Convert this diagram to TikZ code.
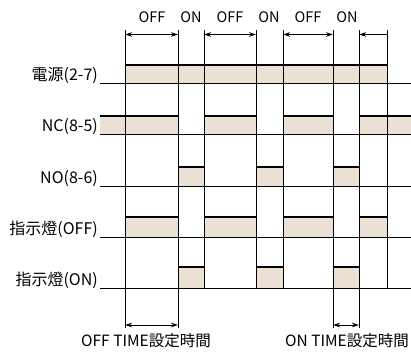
\documentclass[tikz,border=0pt]{standalone}
\usepackage{fontspec}
\setmainfont{Noto Sans CJK JP}
\usetikzlibrary{arrows.meta}
\definecolor{beige}{RGB}{234,224,212}
\tikzset{
  lbl/.style={anchor=base east, inner sep=0pt, font=\fontsize{16}{17}\selectfont},
  toplbl/.style={inner sep=0pt, font=\fontsize{14.5}{16}\selectfont},
  botlbl/.style={inner sep=0pt, font=\fontsize{15.5}{17}\selectfont},
  grid/.style={line width=0.9pt, black},
  base/.style={line width=0.9pt, black},
  high/.style={line width=2pt, black},
  dim/.style={line width=0.9pt, {Stealth[length=7pt,width=4.5pt]}-{Stealth[length=7pt,width=4.5pt]}},
  dimL/.style={line width=0.9pt, {Stealth[length=7pt,width=4.5pt]}-},
}
\begin{document}
\begin{tikzpicture}[x=1pt,y=-1pt]
\useasboundingbox (0,0) rectangle (411,353);
% x positions
\def\xL{100}\def\xR{411}
\def\xa{125}\def\xb{178}\def\xc{204}\def\xd{256}\def\xe{283}\def\xf{333}\def\xg{359}\def\xh{387}
% row: top, base
\def\pT{64.5}\def\pB{83.5}
\def\ncT{115.5}\def\ncB{134.5}
\def\noT{166.5}\def\noB{186}
\def\ofT{216.5}\def\ofB{237.5}
\def\onT{266.5}\def\onB{288}
% fills
\fill[beige] (\xa,\pT) rectangle (\xh,\pB);
\foreach \s/\e in {\xL/\xb,\xc/\xd,\xe/\xf,\xg/\xR} \fill[beige] (\s,\ncT) rectangle (\e,\ncB);
\foreach \s/\e in {\xb/\xc,\xd/\xe,\xf/\xg} \fill[beige] (\s,\noT) rectangle (\e,\noB);
\foreach \s/\e in {\xa/\xb,\xc/\xd,\xe/\xf,\xg/\xh} \fill[beige] (\s,\ofT) rectangle (\e,\ofB);
\foreach \s/\e in {\xb/\xc,\xd/\xe,\xf/\xg} \fill[beige] (\s,\onT) rectangle (\e,\onB);
% vertical lines
\foreach \x in {\xa,\xb,\xf,\xg} \draw[grid] (\x,30) -- (\x,328);
\foreach \x in {\xc,\xd,\xe,\xh} \draw[grid] (\x,30) -- (\x,\onB);
% baselines
\foreach \y in {\pB,\ncB,\noB,\ofB,\onB} \draw[base] (\xL,\y) -- (\xR,\y);
% highs
\draw[high] (\xa,\pT) -- (\xh,\pT);
\foreach \s/\e in {\xL/\xb,\xc/\xd,\xe/\xf,\xg/\xR} \draw[high] (\s,\ncT) -- (\e,\ncT);
\foreach \s/\e in {\xb/\xc,\xd/\xe,\xf/\xg} \draw[high] (\s,\noT) -- (\e,\noT);
\foreach \s/\e in {\xa/\xb,\xc/\xd,\xe/\xf,\xg/\xh} \draw[high] (\s,\ofT) -- (\e,\ofT);
\foreach \s/\e in {\xb/\xc,\xd/\xe,\xf/\xg} \draw[high] (\s,\onT) -- (\e,\onT);
% labels
\node[lbl] (lp) at (98,\pB-3) {電源(2-7)};
\node[lbl] (lnc) at (98,\ncB-3) {NC(8-5)};
\node[lbl] (lno) at (98,\noB-3) {NO(8-6)};
\node[lbl] (lof) at (98,\ofB-3) {指示燈(OFF)};
\node[lbl] (lon) at (98,\onB-3) {指示燈(ON)};
% top labels
\node[toplbl] (t1) at (152,17) {OFF};
\node[toplbl] (t2) at (191,17) {ON};
\node[toplbl] (t3) at (230,17) {OFF};
\node[toplbl] (t4) at (269,17) {ON};
\node[toplbl] (t5) at (308,17) {OFF};
\node[toplbl] (t6) at (347,17) {ON};
% top arrows
\coordinate (A1) at (\xa,34.5); \coordinate (B1) at (\xb,34.5);
\coordinate (A2) at (\xc,34.5); \coordinate (B2) at (\xd,34.5);
\coordinate (A3) at (\xe,34.5); \coordinate (B3) at (\xf,34.5);
\coordinate (A4) at (\xg,34.5); \coordinate (B4) at (\xh,34.5);
\draw[dim] (A1) -- (B1);
\draw[dim] (A2) -- (B2);
\draw[dim] (A3) -- (B3);
\draw[dimL] (A4) -- (B4);
% bottom arrows
\coordinate (C1) at (\xa,325); \coordinate (D1) at (\xb,325);
\coordinate (C2) at (\xf,325); \coordinate (D2) at (\xg,325);
\draw[dim] (C1) -- (D1);
\draw[dim] (C2) -- (D2);
\node[botlbl] (bl1) at (146,340.5) {OFF TIME設定時間};
\node[botlbl] (bl2) at (347,340.5) {ON TIME設定時間};
\end{tikzpicture}
\end{document}
